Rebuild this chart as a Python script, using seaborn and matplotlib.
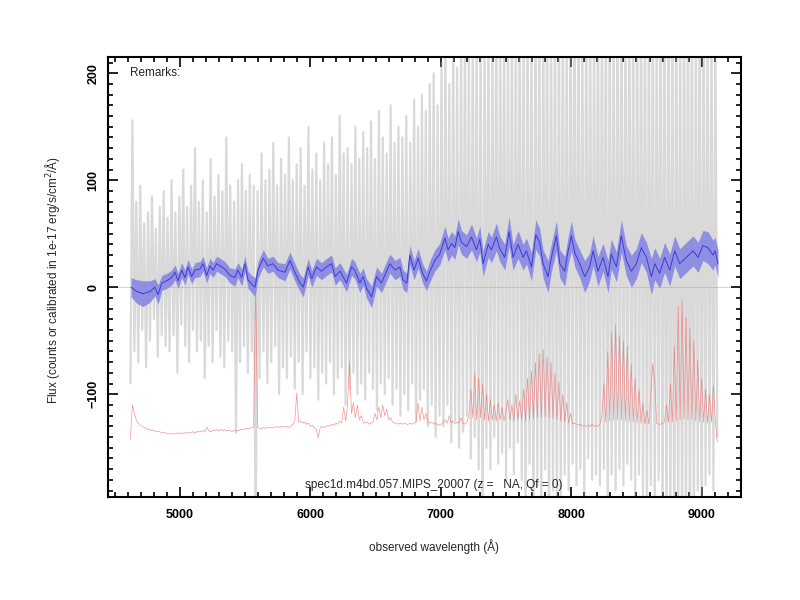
import numpy as np
import pandas as pd
import matplotlib
matplotlib.use("Agg")
import matplotlib.pyplot as plt
from matplotlib.ticker import MultipleLocator
import seaborn as sns

# raw spectrum (gray), sampled every 15 A from 4620 to 9120
raw_wave = np.arange(4620, 9121, 15)
raw_flux = [
    -90, 156, -60, 80, -70, 95, -40, 60, -75, 70, -50, 85, -30, 55, -65, 75, -45, 90, -55, 65,
    -60, 100, -45, 70, -80, 85, -35, 110, -55, 75, -70, 95, -40, 130, -60, 80, -50, 100, -85, 70,
    -55, 120, -70, 85, -40, 105, -65, 90, -75, 140, -50, 95, -60, 80, -136, 100, -70, 115, -55, 90,
    -80, 105, -60, 95, -250, 90, -85, 125, -60, 100, -90, 110, -70, 135, -55, 95, -100, 120, -75, 105,
    -85, 140, -65, 100, -95, 115, -70, 130, -100, 95, -60, 150, -85, 110, -75, 125, -105, 100, -80, 135,
    -90, 115, -70, 140, -100, 105, -85, 160, -75, 125, -110, 130, -95, 115, -80, 150, -100, 120, -90, 145,
    -105, 130, -80, 155, -95, 120, -115, 165, -90, 140, -100, 125, -85, 170, -110, 135, -95, 150, -120, 140,
    -100, 160, -115, 135, -90, 175, -125, 150, -105, 180, -95, 165, -130, 190, -110, 200, -140, 170, -120, 210,
    -130, 230, -110, 190, -145, 240, -125, 205, -150, 225, -135, 250, -120, 215, -160, 260, -140, 235, -170, 245,
    -250, 240, -150, 260, -170, 230, -140, 280, -165, 250, -155, 270, -180, 240, -150, 265, -175, 255, -145, 275,
    -180, 260, -250, 280, -165, 250, -250, 290, -185, 260, -230, 275, -170, 300, -250, 265, -190, 285, -240, 270,
    -210, 290, -175, 260, -190, 280, -165, 300, -185, 270, -170, 255, -195, 285, -160, 270, -180, 260, -175, 290,
    -185, 270, -170, 300, -250, 280, -175, 260, -190, 295, -170, 275, -185, 265, -165, 290, -180, 270, -195, 285,
    -175, 280, -195, 300, -250, 275, -185, 290, -230, 265, -180, 310, -250, 285, -260, 295, -240, 280, -270, 300,
    -250, 290, -280, 310, -230, 285, -260, 300, -250, 280, -190, 295, -240, 270, -185, 260, -175, 250, -190, 240,
    -140,
]

# sky spectrum (red), same grid as the raw spectrum
sky_flux = [
    -142, -110, -118, -124, -127, -129, -130, -131, -132, -133, -133, -134, -134, -135, -135, -135, -136, -136, -136, -137,
    -137, -137, -137, -137, -136, -137, -136, -137, -136, -136, -136, -136, -135, -136, -135, -135, -135, -134, -135, -131,
    -134, -135, -134, -134, -133, -134, -133, -134, -133, -134, -134, -134, -135, -134, -134, -134, -133, -133, -133, -132,
    -132, -132, -131, -131, 5, -131, -132, -132, -131, -132, -131, -131, -131, -131, -131, -130, -131, -130, -130, -131,
    -130, -131, -130, -128, -125, -99, -126, -125, -127, -126, -128, -127, -130, -129, -131, -133, -141, -131, -130, -131,
    -130, -129, -130, -128, -129, -127, -128, -125, -127, -112, -125, -110, -70, -118, -108, -122, -110, -124, -120, -126,
    -127, -126, -128, -127, -126, -118, -124, -112, -122, -110, -120, -114, -124, -122, -126, -127, -127, -128, -127, -128,
    -127, -128, -128, -127, -128, -127, -126, -108, -125, -112, -124, -118, -126, -127, -126, -128, -127, -129, -128, -128,
    -126, -124, -127, -120, -127, -125, -128, -126, -127, -122, -127, -128, -126, -120, -95, -122, -80, -124, -85, -122,
    -90, -124, -100, -125, -105, -124, -110, -125, -108, -124, -112, -125, -115, -105, -124, -110, -125, -100, -124, -106,
    -124, -95, -125, -85, -124, -78, -123, -70, -122, -62, -122, -58, -121, -65, -122, -70, -123, -80, -124, -88,
    -125, -100, -126, -108, -127, -118, -128, -127, -128, -129, -128, -130, -129, -130, -129, -130, -128, -130, -129, -130,
    -128, -120, -90, -126, -60, -125, -42, -124, -35, -124, -45, -124, -50, -125, -55, -126, -72, -126, -85, -127,
    -95, -127, -108, -128, -115, -128, -100, -72, -88, -127, -128, -128, -127, -126, -110, -126, -90, -126, -55, -125,
    -18, -124, -12, -123, -28, -124, -38, -124, -50, -125, -68, -126, -85, -126, -95, -127, -100, -126, -92, -125,
    -145,
]

# smoothed spectrum (blue) with its error band
blue_wave = [
    4625, 4668, 4717, 4770, 4808, 4832, 4860, 4898, 4936, 4962,
    4985, 5013, 5038, 5061, 5090, 5115, 5153, 5176, 5204, 5230,
    5253, 5281, 5307, 5345, 5383, 5421, 5444, 5473, 5498, 5521,
    5550, 5575, 5598, 5638, 5674, 5713, 5751, 5805, 5843, 5880,
    5920, 5945, 5983, 6010, 6047, 6085, 6124, 6162, 6190, 6226,
    6277, 6315, 6340, 6379, 6405, 6430, 6469, 6507, 6545, 6584,
    6609, 6650, 6686, 6710, 6740, 6762, 6795, 6826, 6860, 6890,
    6916, 6954, 6992, 7031, 7056, 7082, 7107, 7133, 7158, 7197,
    7235, 7273, 7299, 7324, 7363, 7388, 7426, 7452, 7490, 7523,
    7554, 7592, 7631, 7656, 7695, 7728, 7758, 7784, 7822, 7848,
    7886, 7912, 7950, 7976, 8001, 8027, 8065, 8103, 8141, 8167,
    8205, 8244, 8282, 8307, 8346, 8384, 8422, 8461, 8499, 8537,
    8576, 8614, 8640, 8678, 8716, 8755, 8793, 8832, 8883, 8934,
    8972, 9010, 9048, 9087, 9102, 9125,
]
blue_flux = [
    0, -4, -6, -4, 0, -7, 4, 6, 9, 14,
    6, 16, 9, 19, 10, 16, 17, 22, 11, 20,
    16, 22, 20, 17, 11, 9, 16, 9, 22, 7,
    3, 0, 16, 27, 20, 22, 16, 14, 25, 14,
    4, 0, 19, 8, 19, 15, 19, 22, 10, 15,
    4, 19, 16, 4, 10, -1, -9, 10, 4, 15,
    22, 16, 19, 7, 4, 30, 16, 27, 13, 6,
    15, 25, 31, 46, 35, 41, 37, 52, 42, 38,
    47, 35, 45, 22, 40, 35, 47, 36, 28, 52,
    28, 40, 28, 34, 19, 49, 42, 22, 10, 28,
    48, 22, 15, 34, 48, 32, 22, 10, 19, 34,
    15, 28, 10, 31, 19, 48, 25, 15, 22, 37,
    28, 10, 22, 13, 28, 16, 34, 22, 28, 34,
    28, 39, 37, 30, 34, 22,
]
blue_err = [
    9, 11, 12, 10, 8, 9, 7, 7, 7, 7,
    7, 7, 7, 7, 7, 7, 7, 7, 7, 7,
    7, 7, 7, 7, 7, 8, 7, 8, 7, 8,
    8, 9, 8, 8, 7, 7, 7, 8, 8, 8,
    8, 9, 8, 8, 8, 8, 8, 8, 8, 8,
    8, 8, 8, 9, 8, 9, 10, 9, 9, 9,
    9, 9, 9, 9, 9, 9, 9, 9, 9, 9,
    10, 10, 10, 11, 11, 11, 11, 12, 11, 11,
    12, 11, 12, 12, 12, 12, 13, 12, 12, 14,
    12, 13, 12, 12, 13, 14, 13, 13, 15, 13,
    14, 13, 14, 13, 14, 13, 13, 15, 13, 14,
    14, 13, 15, 14, 14, 15, 14, 15, 14, 14,
    14, 17, 15, 14, 14, 15, 14, 14, 14, 14,
    14, 14, 15, 14, 13, 13,
]

raw = pd.DataFrame({"wave": raw_wave, "flux": raw_flux, "sky": sky_flux})
smooth = pd.DataFrame({"wave": blue_wave, "flux": blue_flux, "err": blue_err})

sns.set_style("ticks")
plt.rcParams["font.family"] = ["Liberation Sans", "DejaVu Sans"]

fig = plt.figure(figsize=(8, 6), dpi=100)
ax = fig.add_axes([0.135, 0.1717, 0.791, 0.733])

ax.axhline(0, color="#cccccc", lw=0.6, zorder=0)
sns.lineplot(data=raw, x="wave", y="flux", ax=ax, color="#a6a6a6", lw=1.6,
             alpha=0.42, estimator=None, sort=False, zorder=2)
sns.lineplot(data=raw, x="wave", y="sky", ax=ax, color="#f07070", lw=0.5,
             alpha=0.75, estimator=None, sort=False, zorder=2.5)
ax.fill_between(smooth["wave"], smooth["flux"] - smooth["err"],
                smooth["flux"] + smooth["err"], color="#8e8ee3", lw=0, zorder=3)
sns.lineplot(data=smooth, x="wave", y="flux", ax=ax, color="#3c3cd6", lw=0.7,
             estimator=None, sort=False, zorder=4)

ax.set_xlim(4448, 9300)
ax.set_ylim(-196, 215)
ax.xaxis.set_major_locator(MultipleLocator(1000))
ax.xaxis.set_minor_locator(MultipleLocator(100))
ax.yaxis.set_major_locator(MultipleLocator(100))
ax.yaxis.set_minor_locator(MultipleLocator(10))
ax.tick_params(which="both", direction="in", top=True, right=True,
               width=1.2, colors="black", labelsize=9)
ax.tick_params(which="major", length=7)
ax.tick_params(which="minor", length=3.5)
ax.tick_params(axis="x", pad=9)
ax.tick_params(axis="y", pad=6)
plt.setp(ax.get_xticklabels(), fontweight="bold")
plt.setp(ax.get_yticklabels(), fontweight="bold", rotation=90, va="center")
for s in ax.spines.values():
    s.set_linewidth(1.5)
    s.set_color("black")

ax.set_xlabel("observed wavelength (Å)", fontsize=8.5)
ax.set_ylabel(r"Flux (counts or calibrated in 1e-17 erg/s/cm$^2$/Å)", fontsize=8.5)
ax.xaxis.set_label_coords(0.515, -0.095)
ax.yaxis.set_label_coords(-0.073, 0.493)

ax.text(0.035, 0.964, "Remarks:", transform=ax.transAxes, fontsize=8.5,
        ha="left", va="center")
ax.text(0.515, 0.027, "spec1d.m4bd.057.MIPS_20007 (z =   NA, Qf = 0)",
        transform=ax.transAxes, fontsize=8.5, ha="center", va="center")

fig.savefig("out.png", dpi=100)
